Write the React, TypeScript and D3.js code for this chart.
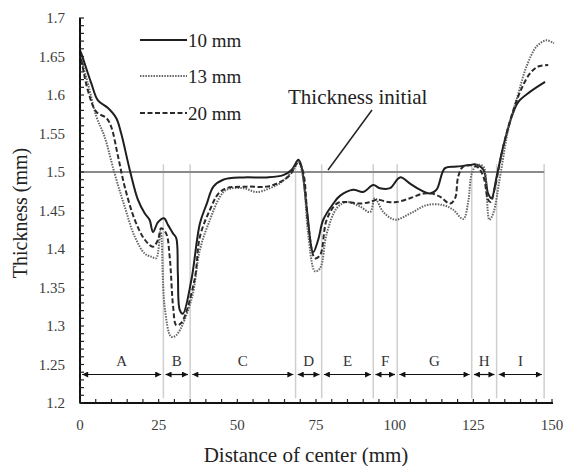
import React from 'react';
import * as d3 from 'd3';

const series10: [number, number][] = [
  [0, 1.658], [0.4, 1.654], [3.6, 1.615], [5.7, 1.593], [8.9, 1.583], [11.5, 1.570], [13.1, 1.550],
  [15.8, 1.503], [18.4, 1.464], [20.6, 1.446], [22.1, 1.438], [23.2, 1.422], [24.8, 1.435],
  [26.7, 1.440], [28.0, 1.431], [29.6, 1.420], [30.6, 1.414], [31.1, 1.368], [31.7, 1.321],
  [32.7, 1.316], [35.4, 1.360], [38.1, 1.433], [40.3, 1.459], [42.4, 1.481], [45.5, 1.490],
  [51.9, 1.493], [59.3, 1.493], [64.6, 1.496], [67.3, 1.503], [69.4, 1.516], [70.4, 1.507],
  [72.0, 1.455], [74.1, 1.396], [75.7, 1.412], [77.3, 1.438], [80.5, 1.459], [82.6, 1.469],
  [86.8, 1.477], [90.0, 1.474], [93.2, 1.483], [95.3, 1.479], [98.5, 1.479], [101.7, 1.493],
  [104.9, 1.485], [108.0, 1.477], [111.2, 1.472], [113.3, 1.477], [116.0, 1.505], [119.7, 1.507],
  [123.9, 1.509], [125.5, 1.510], [128.2, 1.503], [129.7, 1.472], [130.8, 1.466], [132.4, 1.494],
  [134.5, 1.533], [137.2, 1.572], [139.3, 1.591], [143.0, 1.604], [147.8, 1.617]
];

const series13: [number, number][] = [
  [0, 1.652], [2.5, 1.615], [5.2, 1.572], [7.8, 1.546], [11.0, 1.498], [14.2, 1.455], [17.4, 1.416],
  [20.6, 1.394], [22.7, 1.390], [24.2, 1.388], [25.6, 1.423], [26.9, 1.325], [29.0, 1.286],
  [30.6, 1.288], [35.4, 1.334], [38.1, 1.399], [41.3, 1.438], [44.5, 1.468], [46.6, 1.477],
  [51.9, 1.479], [56.1, 1.474], [60.4, 1.479], [64.1, 1.487], [67.8, 1.503], [69.4, 1.513],
  [71.0, 1.490], [72.5, 1.420], [74.7, 1.371], [76.3, 1.375], [78.4, 1.420], [81.6, 1.453],
  [84.7, 1.461], [89.0, 1.455], [92.2, 1.448], [93.7, 1.466], [96.4, 1.448], [100.1, 1.438],
  [104.9, 1.446], [110.2, 1.457], [115.4, 1.457], [118.6, 1.451], [121.8, 1.439], [123.4, 1.462],
  [124.5, 1.498], [126.1, 1.509], [128.2, 1.507], [129.2, 1.472], [130.1, 1.438], [131.3, 1.446],
  [133.5, 1.494], [136.1, 1.555], [139.3, 1.602], [141.9, 1.637], [145.1, 1.663], [148.3, 1.671],
  [150.6, 1.667]
];

const series20: [number, number][] = [
  [0, 1.656], [2.5, 1.606], [5.2, 1.578], [8.4, 1.570], [9.9, 1.559], [12.1, 1.520], [14.2, 1.481],
  [17.4, 1.438], [20.6, 1.412], [23.2, 1.403], [24.8, 1.412], [25.8, 1.427], [27.4, 1.420],
  [28.5, 1.390], [29.6, 1.325], [30.6, 1.301], [32.2, 1.304], [36.4, 1.360], [38.1, 1.416],
  [41.3, 1.451], [44.0, 1.472], [46.6, 1.479], [53.0, 1.481], [59.3, 1.481], [63.6, 1.487],
  [66.7, 1.496], [69.4, 1.513], [71.0, 1.498], [72.5, 1.433], [74.7, 1.388], [76.3, 1.392],
  [78.4, 1.438], [81.6, 1.459], [84.7, 1.461], [89.0, 1.459], [92.2, 1.461], [94.3, 1.464],
  [98.0, 1.461], [100.6, 1.461], [104.9, 1.466], [109.1, 1.472], [111.8, 1.472], [114.4, 1.468],
  [117.6, 1.459], [119.2, 1.466], [120.2, 1.494], [121.8, 1.507], [126.1, 1.507], [128.2, 1.494],
  [129.7, 1.464], [130.5, 1.461], [131.9, 1.481], [134.5, 1.533], [137.7, 1.580], [140.4, 1.609],
  [143.0, 1.628], [145.6, 1.637], [148.8, 1.639]
];

const zoneBounds = [0, 26.5, 35, 68.5, 76.8, 93.2, 100.8, 124.5, 132.4, 147.5];
const zoneNames = ['A', 'B', 'C', 'D', 'E', 'F', 'G', 'H', 'I'];
const xTicks = [0, 25, 50, 75, 100, 125, 150];
const yTicks = [1.2, 1.25, 1.3, 1.35, 1.4, 1.45, 1.5, 1.55, 1.6, 1.65, 1.7];
const initialThickness = 1.5;

const seriesList = [
  { name: '10 mm', data: series10, dash: 'none', color: '#1e1e1e', width: 2 },
  { name: '13 mm', data: series13, dash: '1.5,1.2', color: '#666', width: 2 },
  { name: '20 mm', data: series20, dash: '5,2.5', color: '#2a2a2a', width: 2 },
];

const serif = '"Liberation Serif", "Times New Roman", serif';

export default function App() {
  const x = d3.scaleLinear().domain([0, 150]).range([80, 552]);
  const y = d3.scaleLinear().domain([1.2, 1.7]).range([403, 18]);

  const line = d3.line<[number, number]>()
    .x(d => x(d[0]))
    .y(d => y(d[1]))
    .curve(d3.curveCatmullRom.alpha(0.5));

  const minorY = d3.range(120, 171).map(v => v / 100);
  const minorX = d3.range(0, 151, 5);
  const arrowY = y(1.237);

  return (
    <svg width={563} height={466} style={{ position: 'absolute', left: 0, top: 0, background: '#fff' }}>
      <defs>
        <marker id="ah" viewBox="0 0 10 10" refX="10" refY="5" markerWidth="8" markerHeight="6"
          markerUnits="userSpaceOnUse" orient="auto-start-reverse">
          <path d="M0,0 L10,5 L0,10 Z" fill="#111" />
        </marker>
      </defs>

      {/* zone boundaries */}
      {zoneBounds.slice(1).map((b, i) => (
        <line key={'vb' + i} x1={x(b)} x2={x(b)} y1={y(1.51)} y2={y(1.206)} stroke="#cfcfcf" strokeWidth={1.5} />
      ))}

      {/* initial thickness line */}
      <line x1={x(0)} x2={x(147.5)} y1={y(initialThickness)} y2={y(initialThickness)} stroke="#8a8a8a" strokeWidth={2} />

      {/* zone arrows and labels */}
      {zoneNames.map((n, i) => {
        const a = zoneBounds[i];
        const b = zoneBounds[i + 1];
        return (
          <g key={n}>
            <line x1={x(a + 0.7)} x2={x(b - 0.7)} y1={arrowY} y2={arrowY} stroke="#111" strokeWidth={1.2}
              markerStart="url(#ah)" markerEnd="url(#ah)" />
            <text x={x((a + b) / 2)} y={y(1.255)} dy="0.35em" textAnchor="middle" fontFamily={serif}
              fontSize={15} fill="#333">{n}</text>
          </g>
        );
      })}

      {/* curves */}
      {seriesList.map(s => (
        <path key={s.name} d={line(s.data) || ''} fill="none" stroke={s.color} strokeWidth={s.width}
          strokeDasharray={s.dash} />
      ))}

      {/* axes */}
      <line x1={80} x2={80} y1={y(1.7)} y2={y(1.2)} stroke="#111" strokeWidth={2} />
      <line x1={80} x2={553} y1={y(1.2)} y2={y(1.2)} stroke="#111" strokeWidth={2} />
      {minorY.map(v => (
        <line key={'my' + v} x1={79} x2={84} y1={y(v)} y2={y(v)} stroke="#222" strokeWidth={1.2} />
      ))}
      {minorX.map(v => (
        <line key={'mx' + v} x1={x(v)} x2={x(v)} y1={y(1.2)} y2={y(1.2) - 4} stroke="#222" strokeWidth={1.2} />
      ))}
      {yTicks.map(v => (
        <text key={'ty' + v} x={65} y={y(v)} dy="0.35em" textAnchor="end" fontFamily={serif} fontSize={15}
          fill="#3c3c3c">{String(v)}</text>
      ))}
      {xTicks.map(v => (
        <text key={'tx' + v} x={x(v)} y={425} dy="0.35em" textAnchor="middle" fontFamily={serif} fontSize={15}
          fill="#3c3c3c">{v}</text>
      ))}

      <text x={306} y={462} textAnchor="middle" fontFamily={serif} fontSize={21} fill="#222">Distance of center (mm)</text>
      <text transform="translate(27,213) rotate(-90)" textAnchor="middle" fontFamily={serif} fontSize={20} fill="#222">Thickness (mm)</text>

      {/* legend */}
      {seriesList.map((s, i) => {
        const ly = [40, 76, 113][i];
        return (
          <g key={'lg' + s.name}>
            <line x1={140} x2={187} y1={ly} y2={ly} stroke={s.color} strokeWidth={s.width} strokeDasharray={s.dash} />
            <text x={188} y={ly} dy="0.35em" fontFamily={serif} fontSize={19} fill="#222">{s.name}</text>
          </g>
        );
      })}

      {/* annotation */}
      <text x={288} y={104} fontFamily={serif} fontSize={21} fill="#222">Thickness initial</text>
      <line x1={372} x2={328} y1={110} y2={170} stroke="#222" strokeWidth={1.5} />
    </svg>
  );
}
